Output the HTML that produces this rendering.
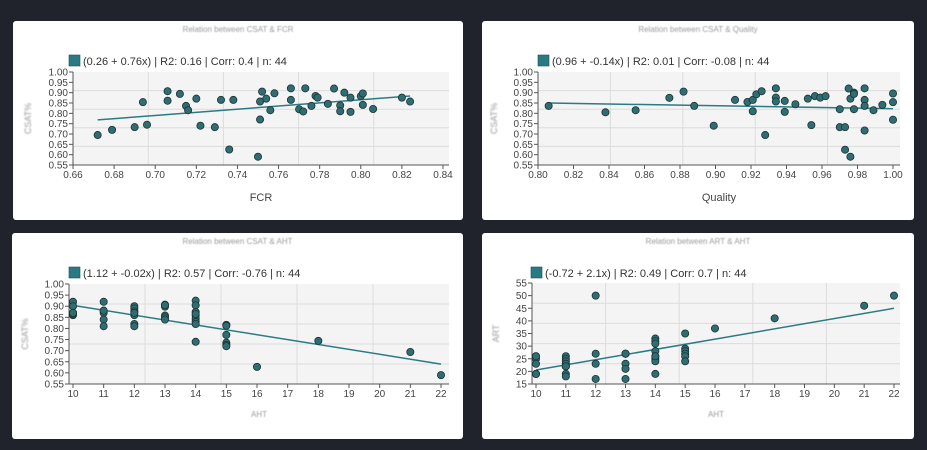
<!DOCTYPE html>
<html><head><meta charset="utf-8"><style>
html,body{margin:0;padding:0;background:#20232b;width:927px;height:450px;overflow:hidden;font-family:"Liberation Sans",sans-serif}
svg text{font-family:"Liberation Sans",sans-serif}
</style></head><body>
<svg id="main" width="927" height="450" xmlns="http://www.w3.org/2000/svg"></svg>
<script>
// Chart 1: CSAT vs FCR
const fcrX=[0.672,0.679,0.690,0.694,0.696,0.706,0.706,0.712,0.715,0.716,0.720,0.722,0.729,0.732,0.736,0.738,0.750,0.751,0.751,0.752,0.754,0.756,0.758,0.766,0.766,0.770,0.772,0.773,0.776,0.778,0.779,0.784,0.787,0.790,0.790,0.792,0.795,0.795,0.800,0.801,0.801,0.806,0.820,0.824];
const fcrY=[0.695,0.72,0.733,0.854,0.745,0.861,0.907,0.894,0.836,0.815,0.871,0.74,0.733,0.865,0.625,0.865,0.59,0.77,0.857,0.905,0.871,0.815,0.897,0.921,0.865,0.82,0.809,0.921,0.836,0.884,0.876,0.846,0.92,0.838,0.81,0.90,0.876,0.807,0.883,0.896,0.841,0.821,0.876,0.857];
const fcrXTicks=["0.66","0.68","0.70","0.72","0.74","0.76","0.78","0.80","0.82","0.84"];
// Chart 2: CSAT vs Quality
const qualX=[0.806,0.838,0.855,0.874,0.882,0.888,0.899,0.911,0.918,0.921,0.921,0.923,0.926,0.928,0.934,0.934,0.934,0.939,0.939,0.945,0.952,0.954,0.956,0.959,0.962,0.970,0.970,0.973,0.973,0.975,0.976,0.976,0.978,0.978,0.978,0.984,0.984,0.984,0.984,0.989,0.994,1.000,1.000,1.000];
const qualY=[0.836,0.805,0.815,0.875,0.905,0.836,0.74,0.865,0.855,0.865,0.81,0.892,0.907,0.695,0.921,0.876,0.857,0.86,0.807,0.844,0.871,0.743,0.883,0.876,0.883,0.82,0.733,0.733,0.624,0.92,0.871,0.59,0.90,0.894,0.82,0.921,0.865,0.836,0.717,0.815,0.841,0.896,0.854,0.769];
const qualXTicks=["0.80","0.82","0.84","0.86","0.88","0.90","0.92","0.94","0.96","0.98","1.00"];
// Chart 3: CSAT vs AHT
const ahtX1=[10,10,10,10,10,10,11,11,11,11,11,11,12,12,12,12,12,12,12,13,13,13,13,13,13,14,14,14,14,14,14,14,14,14,15,15,15,15,15,15,16,18,21,22];
const csatY3=[0.92,0.90,0.87,0.86,0.865,0.87,0.92,0.88,0.87,0.84,0.81,0.88,0.90,0.89,0.877,0.86,0.82,0.81,0.87,0.907,0.898,0.858,0.85,0.84,0.905,0.925,0.904,0.874,0.858,0.843,0.83,0.82,0.74,0.865,0.816,0.812,0.771,0.736,0.726,0.72,0.627,0.744,0.694,0.59];
const csatYTicks=["0.55","0.60","0.65","0.70","0.75","0.80","0.85","0.90","0.95","1.00"];
const ahtXTicks=["10","11","12","13","14","15","16","17","18","19","20","21","22"];
// Chart 4: ART vs AHT
const ahtX2=[10,10,10,10,10,10,11,11,11,11,11,11,11,11,11,12,12,12,12,13,13,13,13,13,13,14,14,14,14,14,14,14,14,14,15,15,15,15,15,15,16,18,21,22];
const artY=[26,25,23,19,19,26,26,25,24,23,22,22,19,18,22,50,27,23,17,27,27,23,21,17,27,33,32,31,28,26,25,24,19,26,35,29,28,27,26,24,37,41,46,50];
const artYTicks=["15","20","25","30","35","40","45","50","55"];

const NS="http://www.w3.org/2000/svg";
const svg=document.getElementById('main');
function mk(tag,attrs,parent){const e=document.createElementNS(NS,tag);for(const k in attrs)e.setAttribute(k,attrs[k]);(parent||svg).appendChild(e);return e;}

function chart(c){
  const g=mk('g',{});
  
  
  const panel=mk('rect',{x:c.px,y:c.py,width:c.pw,height:c.ph,rx:3,fill:'#ffffff'},g);
  
  
  const title=mk('text',{x:c.px+c.pw/2,y:c.py+11,'text-anchor':'middle','font-size':8,fill:'#9a9a9a',style:'filter:blur(0.6px)'},g);
  title.textContent=c.title;
  
  
  const [x0,x1]=c.xd,[y0,y1]=c.yd;
  const sx=v=>c.xa+(v-x0)/(x1-x0)*(c.xb-c.xa);
  const sy=v=>c.ya+(v-y0)/(y1-y0)*(c.yb-c.ya);
  const top=sy(y1),bot=sy(y0);
  const bg=mk('rect',{x:c.plotL,y:top,width:c.plotR-c.plotL,height:bot-top,fill:'#f4f4f4'},g);
  
  
  for(let i=1;i<5;i++){
    const gx=c.plotL+(c.plotR-c.plotL)*i/5;
    const l=mk('line',{x1:gx,x2:gx,y1:top,y2:bot,stroke:'#dcdcdc','stroke-width':1},g);
    
    
    const gy=top+(bot-top)*i/5;
    const l2=mk('line',{x1:c.plotL,x2:c.plotR,y1:gy,y2:gy,stroke:'#dcdcdc','stroke-width':1},g);
    
    
  }
  // axes
  const ay=mk('line',{x1:c.plotL,x2:c.plotL,y1:top,y2:bot,stroke:'#555','stroke-width':1},g);
  
  
  const ax=mk('line',{x1:c.plotL,x2:c.plotR,y1:bot,y2:bot,stroke:'#555','stroke-width':1},g);
  
  
  c.yt.forEach(t=>{
    const y=sy(parseFloat(t));
    mk('line',{x1:c.plotL-4,x2:c.plotL,y1:y,y2:y,stroke:'#555'},g);
    const tx=mk('text',{x:c.plotL-5,y:y+3.5,'text-anchor':'end','font-size':10,fill:'#444'},g);
    tx.textContent=t;
    
    
  });
  c.xt.forEach(t=>{
    const x=sx(parseFloat(t));
    mk('line',{x1:x,x2:x,y1:bot,y2:bot+4,stroke:'#555'},g);
    const tx=mk('text',{x:x,y:bot+13,'text-anchor':'middle','font-size':10,fill:'#444'},g);
    tx.textContent=t;
    
    
  });
  // regression from data
  const n=c.X.length;let mx=0,my=0;c.X.forEach((v,i)=>{mx+=v;my+=c.Y[i];});mx/=n;my/=n;
  let sxy=0,sxx=0;c.X.forEach((v,i)=>{sxy+=(v-mx)*(c.Y[i]-my);sxx+=(v-mx)*(v-mx);});
  const b=sxx?sxy/sxx:0,a=my-b*mx;
  const xmin=Math.min(...c.X),xmax=Math.max(...c.X);
  const rl=mk('line',{x1:sx(xmin),y1:sy(a+b*xmin),x2:sx(xmax),y2:sy(a+b*xmax),stroke:'#2a7b84','stroke-width':1.5},g);
  
  
  c.X.forEach((v,i)=>{
    const p=mk('circle',{cx:sx(v),cy:sy(c.Y[i]),r:3.6,fill:'#2f6d72',stroke:'#1b3436','stroke-width':0.8},g);
    
    
  });
  const sq=mk('rect',{x:c.lx,y:c.ly,width:11,height:11,fill:'#2a7a85',stroke:'#1d4f55','stroke-width':0.6},g);
  
  
  const lt=mk('text',{x:c.lx+14,y:c.ly+10,'font-size':11,fill:'#333'},g);
  lt.textContent=c.legend;
  
  
  const xt=mk('text',{x:(c.plotL+c.plotR)/2,y:c.xty,'text-anchor':'middle','font-size':c.xtBlur?8:11,fill:c.xtBlur?'#999':'#444',style:c.xtBlur?'filter:blur(0.6px)':''},g);
  xt.textContent=c.xTitle;
  
  
  const yt=mk('text',{x:0,y:0,'text-anchor':'middle','font-size':9,fill:'#999',style:'filter:blur(0.8px)',transform:`translate(${c.ytx},${(top+bot)/2}) rotate(-90)`},g);
  yt.textContent=c.yTitle;
  
  
}

chart({name:'chart-csat-fcr',px:13,py:21,pw:450,ph:199,title:'Relation between CSAT & FCR',
  xd:[0.66,0.84],xa:73,xb:443,yd:[0.55,1.0],ya:165,yb:72,plotL:73,plotR:449,
  X:fcrX,Y:fcrY,xt:fcrXTicks,yt:csatYTicks,lx:69,ly:55,legend:'(0.26 + 0.76x) | R2: 0.16 | Corr: 0.4 | n: 44',
  xTitle:'FCR',xty:201,ytx:31,yTitle:'CSAT%'});
chart({name:'chart-csat-quality',px:482,py:21,pw:432,ph:199,title:'Relation between CSAT & Quality',
  xd:[0.80,1.0],xa:538,xb:893,yd:[0.55,1.0],ya:165,yb:72,plotL:538,plotR:900,
  X:qualX,Y:qualY,xt:qualXTicks,yt:csatYTicks,lx:538,ly:55,legend:'(0.96 + -0.14x) | R2: 0.01 | Corr: -0.08 | n: 44',
  xTitle:'Quality',xty:201,ytx:497,yTitle:'CSAT%'});
chart({name:'chart-csat-aht',px:12,py:233,pw:451,ph:206,title:'Relation between CSAT & AHT',
  xd:[10,22],xa:73,xb:441,yd:[0.55,1.0],ya:384,yb:284,plotL:69,plotR:449,
  X:ahtX1,Y:csatY3,xt:ahtXTicks,yt:csatYTicks,lx:69,ly:267,legend:'(1.12 + -0.02x) | R2: 0.57 | Corr: -0.76 | n: 44',
  xTitle:'AHT',xty:417,xtBlur:true,ytx:28,yTitle:'CSAT%'});
chart({name:'chart-art-aht',px:482,py:233,pw:432,ph:206,title:'Relation between ART & AHT',
  xd:[10,22],xa:536,xb:894,yd:[15,55],ya:384,yb:283,plotL:532,plotR:900,
  X:ahtX2,Y:artY,xt:ahtXTicks,yt:artYTicks,lx:531,ly:267,legend:'(-0.72 + 2.1x) | R2: 0.49 | Corr: 0.7 | n: 44',
  xTitle:'AHT',xty:417,xtBlur:true,ytx:499,yTitle:'ART'});
</script>
</body></html>
